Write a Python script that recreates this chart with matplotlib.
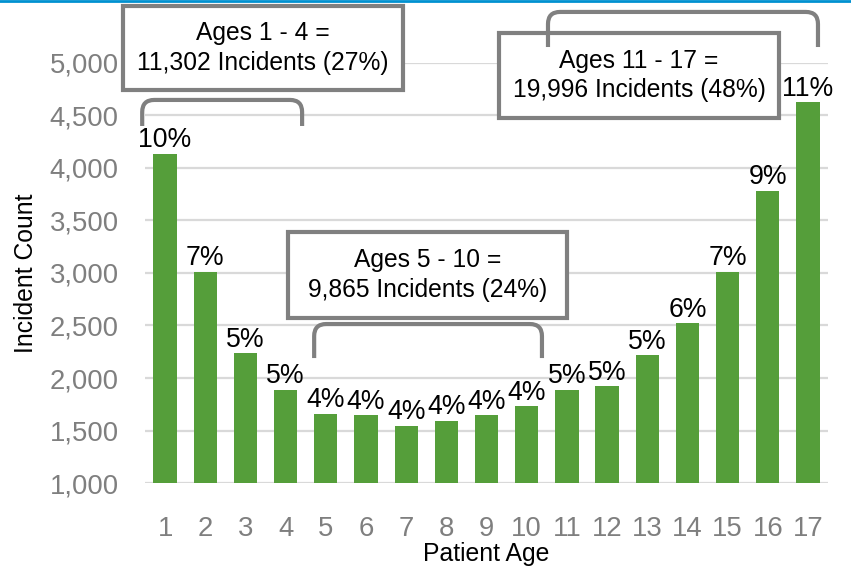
import matplotlib
matplotlib.use("Agg")
import matplotlib.pyplot as plt
from matplotlib.patches import Rectangle, PathPatch
from matplotlib.path import Path

plt.rcParams["font.family"] = ["Liberation Sans", "DejaVu Sans"]

# =====================================
# DATA
# =====================================

ages = list(range(1, 18))
counts = [4135, 3010, 2235, 1890, 1660, 1645, 1545, 1595, 1645, 1730,
          1890, 1920, 2215, 2520, 3010, 3780, 4625]
pct_labels = ["10%", "7%", "5%", "5%", "4%", "4%", "4%", "4%", "4%", "4%",
              "5%", "5%", "5%", "6%", "7%", "9%", "11%"]

groups = [
    "Ages 1 - 4 =\n11,302 Incidents (27%)",
    "Ages 5 - 10 =\n9,865 Incidents (24%)",
    "Ages 11 - 17 =\n19,996 Incidents (48%)",
]

GREEN = "#559E3A"
GRAY = "#808080"

# =====================================
# FIGURE
# =====================================

fig = plt.figure(figsize=(8.51, 5.71), dpi=100)
ax = fig.add_axes([0.1704, 0.1541, 0.8026, 0.7356])

ax.bar(ages, counts, width=0.58, color=GREEN, zorder=2)

for x, v, lab in zip(ages, counts, pct_labels):
    ax.annotate(lab, (x, v), xytext=(0, 0.5), textcoords="offset points",
                ha="center", va="bottom", fontsize=19.2, color="black")

ax.set_xlim(0.5, 17.5)
ax.set_ylim(1000, 5000)
ax.set_yticks(range(1000, 5001, 500))
ax.set_yticklabels([f"{v:,}" for v in range(1000, 5001, 500)])
ax.set_xticks(ages)

ax.tick_params(axis="both", length=0, labelsize=19.8, labelcolor="#7f7f7f")
ax.tick_params(axis="x", pad=24)
ax.tick_params(axis="y", pad=19)

ax.grid(axis="y", color="#d9d9d9", linewidth=1.6, zorder=0)
ax.set_axisbelow(True)
for s in ax.spines.values():
    s.set_visible(False)

ax.set_xlabel("Patient Age", fontsize=17.8, labelpad=0)
ax.set_ylabel("Incident Count", fontsize=17.8, labelpad=8)


# =====================================
# BOXES AND BRACKETS
# =====================================

def box(x0, x1, y0, y1, text):
    r = Rectangle((x0, y0), x1 - x0, y1 - y0, facecolor="white",
                  edgecolor=GRAY, linewidth=3, clip_on=False, zorder=5)
    ax.add_patch(r)
    ax.text((x0 + x1) / 2, (y0 + y1) / 2, text, ha="center", va="center",
            fontsize=17.7, linespacing=1.3, zorder=6, clip_on=False)


def bracket(x0, x1, ytop, yend, rx=0.3, ry=115):
    verts = [(x0, yend), (x0, ytop - ry), (x0, ytop), (x0 + rx, ytop),
             (x1 - rx, ytop), (x1, ytop), (x1, ytop - ry), (x1, yend)]
    codes = [Path.MOVETO, Path.LINETO, Path.CURVE3, Path.CURVE3,
             Path.LINETO, Path.CURVE3, Path.CURVE3, Path.LINETO]
    p = PathPatch(Path(verts, codes), facecolor="none", edgecolor=GRAY,
                  linewidth=3, clip_on=False, zorder=7, capstyle="butt")
    ax.add_patch(p)


box(-0.05, 6.92, 4743, 5543, groups[0])
bracket(0.43, 4.41, 4648, 4400)

box(4.06, 11.0, 2571, 3390, groups[1])
bracket(4.71, 10.38, 2514, 2190)

box(9.31, 16.28, 4476, 5286, groups[2])
bracket(10.53, 17.25, 5486, 5152)

# blue rule at the top
fig.add_artist(plt.Line2D([0, 1], [0.998, 0.998], color="#0091D0",
                          linewidth=2, transform=fig.transFigure))

fig.savefig("out.png", dpi=100)
plt.close(fig)
